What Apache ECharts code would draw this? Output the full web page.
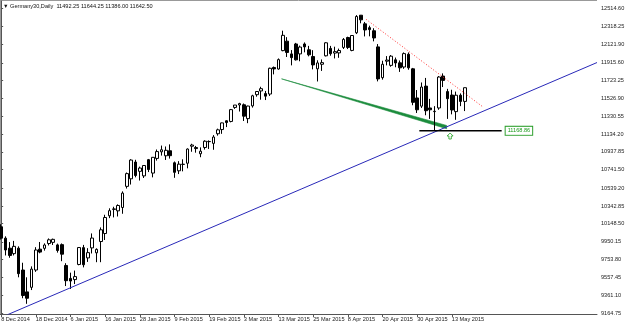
<!DOCTYPE html>
<html>
<head>
<meta charset="utf-8">
<script src="https://cdn.jsdelivr.net/npm/echarts@6/dist/echarts.min.js"></script>
<style>
html,body{margin:0;padding:0;background:#fff}
#main{width:625px;height:326px}
</style>
</head>
<body>
<div id="main"></div>
<script>
// Germany30 daily bars
var dates = [
  '8 Dec 2014','9 Dec 2014','10 Dec 2014','11 Dec 2014','12 Dec 2014','15 Dec 2014','16 Dec 2014','17 Dec 2014','18 Dec 2014','19 Dec 2014',
  '22 Dec 2014','23 Dec 2014','29 Dec 2014','30 Dec 2014','2 Jan 2015','5 Jan 2015','6 Jan 2015','7 Jan 2015','8 Jan 2015','9 Jan 2015',
  '12 Jan 2015','13 Jan 2015','14 Jan 2015','15 Jan 2015','16 Jan 2015','19 Jan 2015','20 Jan 2015','21 Jan 2015','22 Jan 2015','23 Jan 2015',
  '26 Jan 2015','27 Jan 2015','28 Jan 2015','29 Jan 2015','30 Jan 2015','2 Feb 2015','3 Feb 2015','4 Feb 2015','5 Feb 2015','6 Feb 2015',
  '9 Feb 2015','10 Feb 2015','11 Feb 2015','12 Feb 2015','13 Feb 2015','16 Feb 2015','17 Feb 2015','18 Feb 2015','19 Feb 2015','20 Feb 2015',
  '23 Feb 2015','24 Feb 2015','25 Feb 2015','26 Feb 2015','27 Feb 2015','2 Mar 2015','3 Mar 2015','4 Mar 2015','5 Mar 2015','6 Mar 2015',
  '9 Mar 2015','10 Mar 2015','11 Mar 2015','12 Mar 2015','13 Mar 2015','16 Mar 2015','17 Mar 2015','18 Mar 2015','19 Mar 2015','20 Mar 2015',
  '23 Mar 2015','24 Mar 2015','25 Mar 2015','26 Mar 2015','27 Mar 2015','30 Mar 2015','31 Mar 2015','1 Apr 2015','2 Apr 2015','7 Apr 2015',
  '8 Apr 2015','9 Apr 2015','10 Apr 2015','13 Apr 2015','14 Apr 2015','15 Apr 2015','16 Apr 2015','17 Apr 2015','20 Apr 2015','21 Apr 2015',
  '22 Apr 2015','23 Apr 2015','24 Apr 2015','27 Apr 2015','28 Apr 2015','29 Apr 2015','30 Apr 2015','4 May 2015','5 May 2015','6 May 2015',
  '7 May 2015','8 May 2015','11 May 2015','12 May 2015','13 May 2015','14 May 2015','15 May 2015','18 May 2015'
];
// open, high, low, close
var ohlc = [
  [10115,10143,9975,9990],[9990,10010,9800,9860],[9880,9947,9775,9800],[9820,9960,9800,9900],[9880,9900,9560,9600],
  [9640,9720,9330,9360],[9400,9560,9269,9330],[9450,9680,9420,9650],[9640,9891,9620,9860],[9869,9948,9824,9837],
  [9878,9933,9853,9915],[9931,9987,9910,9972],[9944,9985,9915,9977],[9916,9930,9831,9855],[9919,9932,9737,9814],
  [9690,9715,9464,9523],[9548,9611,9432,9519],[9535,9634,9486,9568],[9701,9891,9692,9887],[9886,9916,9669,9698],
  [9773,9880,9729,9831],[9883,10042,9822,9991],[9829,9878,9726,9867],[9953,10108,9726,10082],[10041,10247,9970,10217],
  [10236,10318,10210,10292],[10311,10335,10218,10307],[10290,10361,10228,10349],[10327,10504,10258,10485],[10559,10711,10535,10699],
  [10642,10857,10579,10848],[10826,10851,10658,10678],[10724,10776,10623,10760],[10674,10792,10651,10788],[10852,10860,10716,10744],
  [10705,10879,10658,10878],[10866,10964,10842,10941],[10938,11007,10897,10961],[10895,10997,10849,10955],[10950,11020,10864,10896],
  [10818,10832,10653,10713],[10730,10836,10694,10803],[10800,10856,10724,10802],[10813,10976,10757,10969],[11000,11027,10939,11013],
  [10985,11003,10929,10974],[10917,10987,10879,10945],[10986,11065,10963,11055],[11050,11064,10970,11052],[11031,11122,10961,11101],
  [11137,11193,11116,11180],[11183,11259,11136,11256],[11279,11284,11210,11260],[11272,11409,11262,11402],[11426,11452,11410,11452],
  [11453,11477,11381,11468],[11455,11469,11277,11330],[11303,11445,11253,11441],[11443,11565,11424,11554],[11566,11603,11544,11601],
  [11607,11653,11511,11632],[11578,11607,11507,11550],[11573,11863,11552,11856],[11865,11875,11789,11849],[11848,11964,11841,11951],
  [12050,12269,12043,12218],[12154,12198,11980,12030],[12014,12056,11888,11973],[12123,12135,11941,11949],[12014,12105,11933,12089],
  [12123,12140,12031,12091],[12059,12102,11987,12004],[11985,12055,11844,11893],[11850,11944,11711,11915],[11900,11953,11827,11918],
  [11993,12142,11986,12136],[12074,12102,11994,12016],[12023,12093,11964,12039],[12025,12072,11971,12051],[12085,12188,12068,12173],
  [12194,12203,12067,12085],[12052,12216,12043,12216],[12246,12440,12232,12425],[12439,12440,12350,12388],[12344,12365,12206,12277],
  [12302,12324,12207,12281],[12268,12296,12152,12189],[12091,12122,11712,11739],[11753,11939,11731,11900],[11934,11990,11888,11946],
  [11888,12001,11873,11989],[11949,11974,11867,11914],[11916,11942,11816,11861],[11870,12030,11850,12017],[12010,12030,11840,11861],
  [11850,11860,11450,11482],[11530,11617,11365,11400],[11440,11700,11420,11650],[11660,11750,11340,11390],[11420,11520,11300,11400],
  [11380,11440,11169,11384],[11420,11770,11400,11760],[11770,11800,11650,11723],[11600,11630,11300,11522],[11562,11620,11350,11398],
  [11380,11600,11290,11560],[11560,11580,11440,11492],[11492.25,11644.25,11386.00,11642.50]
];
var priceTicks = [12514.60,12318.25,12121.90,11915.60,11723.25,11526.90,11330.55,11134.20,10937.85,
  10741.50,10539.20,10342.85,10148.50,9950.15,9753.80,9557.45,9361.10,9164.75];
var lastPrice = 11642.50;
var emptySlots = 30;

// drawn objects: [bar index, price]
var blueLine = [[1.3, 9146], [137.5, 11919]];
var greenWedge = [[64.7, 11740], [102.8, 11228], [102.8, 11192]];
var redLine = [[84.2, 12394], [111.3, 11427]];
var levelLine = [[96.5, 11168.86], [115.5, 11168.86]];
var arrowPoint = [[103.6, 11112]];

var cats = dates.slice();
for (var i = 0; i < emptySlots; i++) cats.push('');
var candles = ohlc.map(function (r) { return [r[0], r[3], r[2], r[1]]; });
function tickAt(idx) { return idx % 8 === 0 && idx < dates.length; }

var chart = echarts.init(document.getElementById('main'));
var font = 'Liberation Sans';
option = {
  animation: false,
  backgroundColor: '#fff',
  grid: { left: -1, right: 28, top: 1, bottom: 12, outerBoundsMode: 'none' },
  xAxis: [
    {
      type: 'category',
      data: cats,
      boundaryGap: true,
      axisLine: { lineStyle: { color: '#555', width: 1 } },
      axisTick: { show: true, alignWithLabel: true, interval: tickAt, length: 3, lineStyle: { color: '#555' } },
      axisLabel: {
        interval: tickAt, align: 'left', margin: 2, padding: [0, 0, 0, 0],
        fontSize: 5.6, fontFamily: font, color: '#222'
      },
      splitLine: { show: false }
    },
    { type: 'value', min: -0.5, max: 137.5, show: false }
  ],
  yAxis: {
    type: 'value',
    position: 'right',
    min: 9157, max: 12595,
    axisLine: { show: true, lineStyle: { color: '#555' } },
    axisTick: { show: true, length: 2, customValues: priceTicks, lineStyle: { color: '#555' } },
    axisLabel: {
      customValues: priceTicks, margin: 4, fontSize: 5.6, fontFamily: font, color: '#222',
      formatter: function (v) { return v.toFixed(2); }
    },
    splitLine: { show: false }
  },
  series: [
    {
      type: 'line', xAxisIndex: 1, data: blueLine, symbol: 'none', silent: true,
      lineStyle: { color: '#2828b8', width: 1 }
    },
    {
      // thin green triangle object
      type: 'custom', xAxisIndex: 1, data: [0], silent: true,
      renderItem: function (params, api) {
        var pts = greenWedge.map(function (p) { return api.coord(p); });
        return { type: 'polygon', shape: { points: pts }, style: { fill: '#1b8c3c', stroke: '#1b8c3c', lineWidth: 0.6 } };
      }
    },
    {
      type: 'line', xAxisIndex: 1, data: redLine, symbol: 'none', silent: true,
      lineStyle: { color: '#ff3030', width: 1, type: [1, 2] }
    },
    {
      type: 'line', xAxisIndex: 1, data: levelLine, symbol: 'none', silent: true,
      lineStyle: { color: '#000', width: 1.5 },
      endLabel: {
        show: true, formatter: '11168.86', distance: 4, fontSize: 5.6, fontFamily: font,
        color: '#1a9a1a', backgroundColor: '#fff', borderColor: '#2ea02e', borderWidth: 1, padding: [1, 2]
      }
    },
    {
      type: 'scatter', xAxisIndex: 1, data: arrowPoint, silent: true,
      symbol: 'path://M5,0 L10,5 L7,5 L7,10 L3,10 L3,5 L0,5 Z', symbolSize: [6, 6],
      itemStyle: { color: '#fff', borderColor: '#22a022', borderWidth: 1 }
    },
    {
      type: 'candlestick', xAxisIndex: 0, data: candles, barWidth: 3,
      itemStyle: { color: '#fff', color0: '#000', borderColor: '#000', borderColor0: '#000', borderWidth: 1 },
      markLine: {
        silent: true, symbol: 'none',
        lineStyle: { opacity: 0 },
        data: [{ yAxis: lastPrice }],
        label: {
          position: 'end', distance: 2, formatter: lastPrice.toFixed(2), fontSize: 5.6, fontFamily: font,
          color: '#fff', backgroundColor: '#000', padding: [1, 2]
        }
      }
    }
  ],
  graphic: [
    { type: 'line', shape: { x1: 0.5, y1: 0, x2: 0.5, y2: 314 }, style: { stroke: '#999', lineWidth: 1 } },
    { type: 'line', shape: { x1: 0, y1: 0.5, x2: 597, y2: 0.5 }, style: { stroke: '#999', lineWidth: 1 } },
    {
      type: 'text', left: 3, top: 3,
      style: { text: '\u25BC Germany30,Daily  11492.25 11644.25 11386.00 11642.50', fontSize: 5.6, fontFamily: font, fill: '#111' }
    }
  ]
};
chart.setOption(option);
</script>
</body>
</html>
